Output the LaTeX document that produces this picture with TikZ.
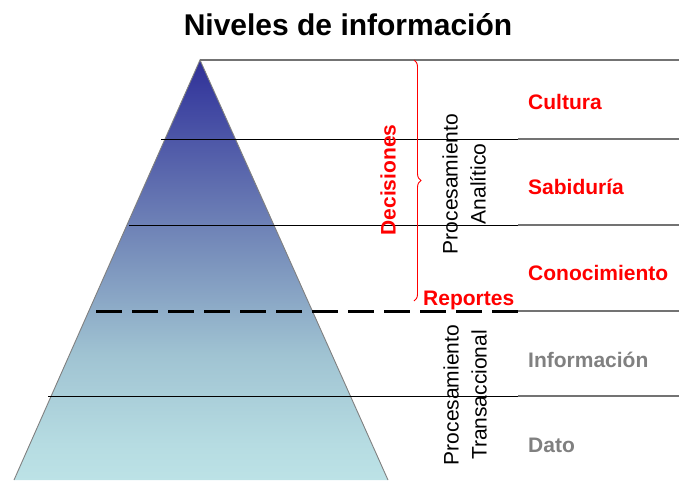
\documentclass[tikz,border=0pt]{standalone}
\usepackage{fontspec}
\setmainfont{Liberation Sans}
\usetikzlibrary{decorations.pathreplacing}
\definecolor{labelgray}{RGB}{128,128,128}
\definecolor{rulegray}{RGB}{115,115,115}

% vertical fill of the pyramid, dark blue at the apex, light cyan at the base
\pgfdeclareverticalshading{pyramide}{100bp}{
  rgb(0bp)=(0.737,0.886,0.902);
  rgb(25bp)=(0.737,0.886,0.902);
  rgb(29.17bp)=(0.714,0.863,0.886);
  rgb(39.88bp)=(0.627,0.765,0.824);
  rgb(50.6bp)=(0.490,0.588,0.745);
  rgb(60.12bp)=(0.373,0.431,0.686);
  rgb(70.83bp)=(0.235,0.255,0.627);
  rgb(75bp)=(0.188,0.188,0.588);
  rgb(100bp)=(0.188,0.188,0.588)}

\tikzset{
  levelred/.style={font=\fontsize{21}{25}\selectfont\bfseries, text=red, anchor=west, inner sep=0pt},
  levelgray/.style={levelred, text=labelgray},
  sidetext/.style={font=\fontsize{21}{28}\selectfont, rotate=90, align=center, inner sep=0pt},
  grayrule/.style={draw=rulegray, line width=1.2pt},
}

\begin{document}
\begin{tikzpicture}[x=1pt, y=-1pt]
    \useasboundingbox (0,0) rectangle (679,480);

    % pyramid
    \coordinate (apex) at (200,60);
    \coordinate (baseL) at (14,480);
    \coordinate (baseR) at (388,480);
    \shade[shading=pyramide] (baseL) -- (apex) -- (baseR) -- cycle;
    \draw[draw=gray, line width=0.9pt] (baseL) -- (apex) -- (baseR);

    % level lines
    \coordinate (split) at (518,0);
    \draw[grayrule] (apex) -- (679,60);
    \foreach \y/\x in {139/161, 225/129, 396/48}{
        \draw[line width=1pt] (\x,\y) -- (split |- 0,\y);
        \draw[grayrule] (split |- 0,\y) -- (679,\y);
    }
    \draw[line width=3pt, dash pattern=on 26pt off 10pt] (96,311) -- (split |- 0,311);
    \draw[grayrule] (split |- 0,311) -- (679,311);

    % brace
    \draw[red, line width=0.9pt, decorate, decoration={brace, amplitude=7pt}] (414,60) -- (414,301);

    % texts
    \node[font=\fontsize{30}{36}\selectfont\bfseries] (titulo) at (348,25) {Niveles de información};
    \node[font=\fontsize{21}{25}\selectfont\bfseries, text=red, rotate=90, inner sep=0pt] (decisiones) at (388,180) {Decisiones};
    \node[sidetext] (analitico) at (464,184) {Procesamiento\\Analítico};
    \node[sidetext] (transaccional) at (465,395) {Procesamiento\\Transaccional};
    \node[levelred] (reportes) at (423,300) {Reportes};

    \node[levelred] (cultura) at (528,102) {Cultura};
    \node[levelred] (sabiduria) at (528,187) {Sabiduría};
    \node[levelred] (conocimiento) at (528,273) {Conocimiento};
    \node[levelgray] (informacion) at (528,360) {Información};
    \node[levelgray] (dato) at (528,445) {Dato};
\end{tikzpicture}
\end{document}
